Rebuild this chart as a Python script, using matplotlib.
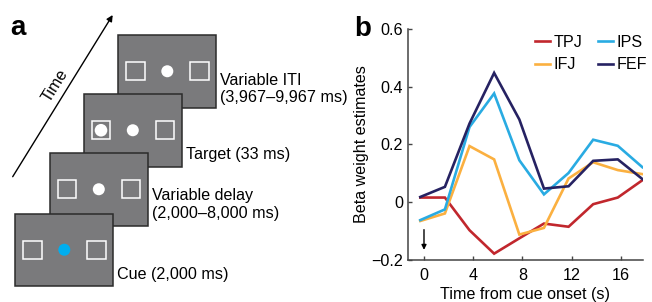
import numpy as np
import matplotlib.pyplot as plt
from matplotlib.patches import Rectangle, Circle

plt.rcParams['font.family'] = ['Liberation Sans', 'DejaVu Sans']
plt.rcParams['font.size'] = 11.6

# ---- panel b data ----
time_s = [-0.3, 1.7, 3.7, 5.7, 7.75, 9.75, 11.75, 13.75, 15.75, 17.75]
tpj = [0.016, 0.016, -0.097, -0.178, -0.125, -0.074, -0.085, -0.007, 0.016, 0.076]
ifj = [-0.065, -0.039, 0.194, 0.148, -0.112, -0.089, 0.082, 0.138, 0.111, 0.097]
ips = [-0.062, -0.025, 0.260, 0.376, 0.145, 0.027, 0.101, 0.216, 0.195, 0.121]
fef = [0.018, 0.053, 0.272, 0.447, 0.286, 0.047, 0.055, 0.143, 0.148, 0.080]

regions = ['TPJ', 'IFJ', 'IPS', 'FEF']
region_colors = ['#c1272d', '#fbb040', '#29abe2', '#262262']

x_ticks = [0, 4, 8, 12, 16]
y_ticks = [-0.2, 0, 0.2, 0.4, 0.6]
y_tick_labels = ['\u22120.2', '0', '0.2', '0.4', '0.6']

# ---- panel a text ----
stages = ['iti', 'target', 'delay', 'cue']
stage_labels = ['Variable ITI\n(3,967\u20139,967 ms)', 'Target (33 ms)',
                'Variable delay\n(2,000\u20138,000 ms)', 'Cue (2,000 ms)']


def draw_screen(ax, x0, y0, kind):
    w, h = 98, 72.5
    ax.add_patch(Rectangle((x0, y0), w, h, fc='#7a7a7c', ec='#2b2b2b', lw=1.1))
    cy = y0 + h / 2
    s = 18.3
    for sx in (x0 + 8.4, x0 + 72.4):
        ax.add_patch(Rectangle((sx, cy - s / 2), s, s, fc='none', ec='white', lw=1.1))
    dot = '#00aeef' if kind == 'cue' else 'white'
    ax.add_patch(Circle((x0 + 49.3, cy), 6, fc=dot, ec='none'))
    if kind == 'target':
        ax.add_patch(Circle((x0 + 17.5, cy), 6.3, fc='white', ec='none'))


def draw_figure():
    fig = plt.figure(figsize=(6.52, 3.02), dpi=100)

    # panel a: schematic drawn in pixel coordinates
    ax0 = fig.add_axes([0, 0, 1, 1])
    ax0.set_xlim(0, 652)
    ax0.set_ylim(302, 0)
    ax0.axis('off')

    screen_x = [118, 83.5, 49.5, 15]
    screen_y = [35, 94, 153, 213.5]
    text_dy = [54, 61, 51.5, 61.5]
    for kind, lab, sx, sy, dy in zip(stages, stage_labels, screen_x, screen_y, text_dy):
        draw_screen(ax0, sx, sy, kind)
        ax0.text(sx + 102, sy + dy, lab, ha='left', va='center')

    ax0.annotate('', xy=(112.7, 15), xytext=(12.7, 176.7),
                 arrowprops=dict(arrowstyle='-|>', color='k', lw=1.0,
                                 mutation_scale=9, shrinkA=0, shrinkB=0))
    ax0.text(55, 86, 'Time', rotation=58, ha='center', va='center')
    ax0.text(10, 28, 'a', fontsize=20, fontweight='bold', ha='left', va='center')
    ax0.text(354, 29, 'b', fontsize=20, fontweight='bold', ha='left', va='center')

    # panel b: line chart
    ax = fig.add_axes([408 / 652, 1 - 260 / 302, (643 - 408) / 652, (260 - 28.7) / 302])
    ax.set_facecolor('none')
    for name, vals, col in zip(regions, [tpj, ifj, ips, fef], region_colors):
        ax.plot(time_s, vals, color=col, lw=1.9, label=name, solid_joinstyle='miter')

    ax.annotate('', xy=(0, -0.165), xytext=(0, -0.095),
                arrowprops=dict(arrowstyle='-|>', color='k', lw=1.0,
                                mutation_scale=7, shrinkA=0, shrinkB=0))

    ax.set_xlim(-1.3, 17.8)
    ax.set_ylim(-0.2, 0.6)
    ax.set_xticks(x_ticks)
    ax.set_yticks(y_ticks)
    ax.set_yticklabels(y_tick_labels)
    for side in ['top', 'right']:
        ax.spines[side].set_visible(False)
    for side in ['left', 'bottom']:
        ax.spines[side].set_color('#444444')
        ax.spines[side].set_linewidth(1.1)
    ax.tick_params(direction='in', length=3, width=1.0, color='#444444', pad=3.5)
    ax.tick_params(axis='x', pad=6)

    ax.set_xlabel('Time from cue onset (s)', labelpad=2.5)
    ax.set_ylabel('Beta weight estimates', labelpad=1.5)

    ax.legend(ncol=2, frameon=False, loc='upper left',
              bbox_to_anchor=(535 / 652, 1 - 35 / 302), bbox_transform=fig.transFigure,
              borderpad=0, borderaxespad=0, handlelength=0.9, handletextpad=0.25,
              columnspacing=1.0, labelspacing=0.45)

    fig.savefig('out.png', dpi=100)


if __name__ == '__main__':
    draw_figure()
